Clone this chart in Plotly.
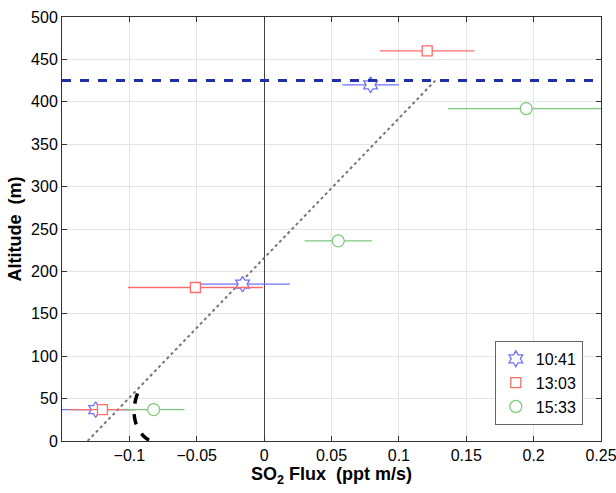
import plotly.graph_objects as go

# Data
flux_1041 = [-0.125, -0.016, 0.079]
alt_1041 = [37, 185, 420]
err_1041 = [0.03, 0.035, 0.021]

flux_1303 = [-0.120, -0.051, 0.121]
alt_1303 = [37, 181, 460]
err_1303 = [0.024, 0.05, 0.035]

flux_1533 = [-0.082, 0.055, 0.1945]
alt_1533 = [37, 236, 392]
err_1533 = [0.023, 0.025, 0.058]

bl_height = 425
fit_flux = [-0.131, 0.127]
fit_alt = [0, 425]

curve_flux = [-0.094, -0.0955, -0.0965, -0.0962, -0.0950, -0.0925, -0.0895, -0.0865, -0.0835]
curve_alt = [56, 48, 38, 28, 20, 12, 6, 2, 0]

x_ticks = [-0.1, -0.05, 0, 0.05, 0.1, 0.15, 0.2, 0.25]
x_ticktext = ["\u22120.1", "\u22120.05", "0", "0.05", "0.1", "0.15", "0.2", "0.25"]
y_ticks = [0, 50, 100, 150, 200, 250, 300, 350, 400, 450, 500]

BLUE = "#7070ff"
RED = "#ff6b6b"
GREEN = "#7cc97c"

fig = go.Figure()

fig.add_trace(go.Scatter(x=fit_flux, y=fit_alt, mode="lines",
                         line=dict(color="#777777", width=2, dash="dot"),
                         showlegend=False, hoverinfo="skip"))
fig.add_trace(go.Scatter(x=curve_flux, y=curve_alt, mode="lines",
                         line=dict(color="black", width=3.5, dash="dash"),
                         line_shape="spline",
                         showlegend=False, hoverinfo="skip"))

for name, fx, al, er, col, sym, sz in [
    ("10:41", flux_1041, alt_1041, err_1041, BLUE, "hexagram", 12),
    ("13:03", flux_1303, alt_1303, err_1303, RED, "square", 10),
    ("15:33", flux_1533, alt_1533, err_1533, GREEN, "circle", 12),
]:
    fig.add_trace(go.Scatter(
        x=fx, y=al, mode="markers", name=name,
        marker=dict(symbol=sym, size=sz, color="white",
                    line=dict(color=col, width=1.3)),
        error_x=dict(type="data", array=er, color=col, thickness=1.3, width=0),
    ))

fig.add_trace(go.Scatter(x=[-0.15, 0.25], y=[bl_height, bl_height], mode="lines",
                         line=dict(color="#1f2fa8", width=3, dash="dash"),
                         showlegend=False, hoverinfo="skip"))

fig.update_layout(
    width=616, height=493,
    margin=dict(l=62, r=15, t=17, b=52),
    paper_bgcolor="white", plot_bgcolor="white",
    font=dict(family="Liberation Sans, Arial, Helvetica, sans-serif", size=16, color="black"),
    legend=dict(x=0.803, y=0.236, xanchor="left", yanchor="top",
                bgcolor="white", bordercolor="#666666", borderwidth=1,
                font=dict(size=16), itemsizing="trace"),
    xaxis=dict(range=[-0.15, 0.25], tickvals=x_ticks, ticktext=x_ticktext,
               automargin=False, ticklabeloverflow="allow",
               showgrid=True, gridcolor="#e4e4e4", gridwidth=1,
               zeroline=True, zerolinecolor="#444444", zerolinewidth=1,
               showline=True, linecolor="#333333", linewidth=1, mirror="ticks",
               ticks="inside", ticklen=5, tickcolor="#333333",
               title=dict(text="<b>SO<sub>2</sub> Flux  (ppt m/s)</b>", font=dict(size=18), standoff=4)),
    yaxis=dict(range=[0, 500], tickvals=y_ticks,
               automargin=False, ticklabeloverflow="allow",
               showgrid=True, gridcolor="#e4e4e4", gridwidth=1,
               zeroline=False,
               showline=True, linecolor="#333333", linewidth=1, mirror="ticks",
               ticks="inside", ticklen=5, tickcolor="#333333",
               title=dict(text="<b>Altitude  (m)</b>", font=dict(size=18), standoff=4)),
)

fig.write_html("out.html")
